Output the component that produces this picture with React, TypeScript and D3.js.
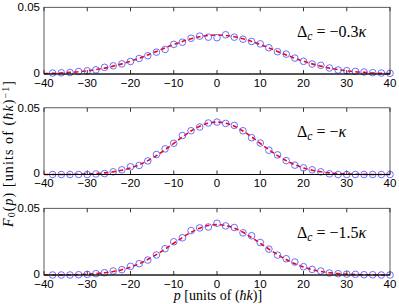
import React from "react";
import * as d3 from "d3";

const momenta = [-38,-36,-34,-32,-30,-28,-26,-24,-22,-20,-18,-16,-14,-12,-10,-8,-6,-4,-2,0,2,4,6,8,10,12,14,16,18,20,22,24,26,28,30,32,34,36,38,40];
const theoryP = [-40,-38,-36,-34,-32,-30,-28,-26,-24,-22,-20,-18,-16,-14,-12,-10,-8,-6,-4,-2,0,2,4,6,8,10,12,14,16,18,20,22,24,26,28,30,32,34,36,38,40];

const sim1 = [0.0007,0.0009,0.0011,0.0019,0.0024,0.0031,0.005,0.0061,0.0076,0.0094,0.0116,0.0137,0.0164,0.0184,0.0222,0.0238,0.0268,0.0284,0.0276,0.0272,0.0294,0.0276,0.0261,0.0244,0.0226,0.0197,0.0167,0.0149,0.0119,0.0095,0.0075,0.0065,0.0045,0.003,0.0025,0.002,0.0015,0.001,0.0007,0.0005];
const theory1 = [0.0003,0.0005,0.0008,0.0012,0.0017,0.0024,0.0033,0.0044,0.0059,0.0076,0.0096,0.0118,0.0143,0.0169,0.0196,0.0221,0.0244,0.0264,0.0279,0.0289,0.0292,0.0289,0.0279,0.0264,0.0244,0.0221,0.0196,0.0169,0.0143,0.0118,0.0096,0.0076,0.0059,0.0044,0.0033,0.0024,0.0017,0.0012,0.0008,0.0005,0.0003];

const sim2 = [0,0,0,0,0,0.0004,0.0007,0.002,0.0035,0.0058,0.0068,0.0102,0.015,0.0192,0.0234,0.0292,0.0328,0.0356,0.0386,0.0393,0.0383,0.0368,0.0328,0.0276,0.0236,0.0182,0.0147,0.0104,0.007,0.005,0.0035,0.002,0.0005,0,0,0,0,0,0,0];
const theory2 = [0,0,0,0.0001,0.0002,0.0004,0.0007,0.0012,0.002,0.0032,0.0049,0.0073,0.0104,0.0142,0.0186,0.0233,0.0282,0.0326,0.0362,0.0385,0.0393,0.0385,0.0362,0.0326,0.0282,0.0233,0.0186,0.0142,0.0104,0.0073,0.0049,0.0032,0.002,0.0012,0.0007,0.0004,0.0002,0.0001,0,0,0];

const sim3 = [0,0,0,0.0002,0.0005,0.001,0.0017,0.003,0.004,0.0065,0.0085,0.0112,0.015,0.0197,0.0249,0.0279,0.0333,0.0353,0.036,0.0388,0.0368,0.0356,0.0316,0.0294,0.0244,0.0194,0.0149,0.0122,0.0097,0.0062,0.0042,0.003,0.0015,0.001,0.0007,0.0005,0.0002,0.0002,0,0];
const theory3 = [0,0,0.0001,0.0002,0.0003,0.0006,0.001,0.0017,0.0026,0.004,0.0059,0.0084,0.0116,0.0153,0.0194,0.0238,0.0281,0.032,0.0351,0.0371,0.0378,0.0371,0.0351,0.032,0.0281,0.0238,0.0194,0.0153,0.0116,0.0084,0.0059,0.004,0.0026,0.0017,0.001,0.0006,0.0003,0.0002,0.0001,0,0];

const detunings = ["\u22120.3", "\u2212", "\u22121.5"];
const xTicks = [-40, -30, -20, -10, 0, 10, 20, 30, 40];
const yTicks = [0, 0.05];

const W = 399, H = 304;
const left = 44, right = 390;
const tops = [7.3, 107.8, 208.3];
const ph = 66.7;

const sims = [sim1, sim2, sim3];
const theories = [theory1, theory2, theory3];

const x = d3.scaleLinear().domain([-40, 40]).range([left, right]);
const tickFont = "'Liberation Sans', Arial, sans-serif";
const texFont = "'Liberation Serif', 'Times New Roman', serif";

function fmtTick(v: number) {
  return v < 0 ? "\u2212" + Math.abs(v) : String(v);
}

function Panel({ i }: { i: number }) {
  const top = tops[i];
  const y = d3.scaleLinear().domain([0, 0.05]).range([top + ph, top]);
  const line = d3
    .line<number>()
    .x((_, k) => x(theoryP[k]))
    .y((d) => y(d))
    .curve(d3.curveCatmullRom);
  const bottom = top + ph;
  return (
    <g>
      {xTicks.map((t) => (
        <g key={t}>
          <line x1={x(t)} x2={x(t)} y1={bottom} y2={bottom - 4} stroke="#000" strokeWidth={0.8} />
          <line x1={x(t)} x2={x(t)} y1={top} y2={top + 4} stroke="#000" strokeWidth={0.8} />
          <text x={x(t)} y={bottom + 12.5} fontFamily={tickFont} fontSize={11.5} textAnchor="middle">
            {fmtTick(t)}
          </text>
        </g>
      ))}
      {yTicks.map((t) => (
        <text key={t} x={left - 4} y={y(t) + (t === 0 ? 2.5 : 4)} fontFamily={tickFont} fontSize={11.5} textAnchor="end">
          {String(t)}
        </text>
      ))}
      <path d={line(theories[i]) || ""} fill="none" stroke="#ff0000" strokeWidth={1.6} strokeDasharray="4.5,3" />
      {sims[i].map((v, k) => (
        <circle key={k} cx={x(momenta[k])} cy={y(v)} r={3.3} fill="none" stroke="#4848ff" strokeWidth={0.8} />
      ))}
      <rect x={left} y={top} width={right - left} height={ph} fill="none" stroke="#333" strokeWidth={0.8} />
      <line x1={left} x2={right} y1={bottom} y2={bottom} stroke="#000" strokeWidth={1} />
      <text x={297} y={top + 29.5} fontFamily={texFont} fontSize={16}>
        <tspan>{"\u0394"}</tspan>
        <tspan fontStyle="italic" fontSize={11.5} dy={3}>c</tspan>
        <tspan dy={-3}>{" = " + detunings[i]}</tspan>
        <tspan fontStyle="italic">{"\u03BA"}</tspan>
      </text>
    </g>
  );
}

export default function App() {
  return (
    <svg width={W} height={H} style={{ position: "absolute", left: 0, top: 0, background: "white" }}>
      <rect width={W} height={H} fill="white" />
      {[0, 1, 2].map((i) => (
        <Panel key={i} i={i} />
      ))}
      <text
        transform={`translate(13,154) rotate(-90)`}
        fontFamily={texFont}
        fontSize={14}
        textAnchor="middle"
        textLength={146}
        lengthAdjust="spacing"
      >
        <tspan fontStyle="italic">F</tspan>
        <tspan fontSize={10} dy={2}>0</tspan>
        <tspan dy={-2}>(</tspan>
        <tspan fontStyle="italic">p</tspan>
        <tspan>) [units of (</tspan>
        <tspan fontStyle="italic">{"\u0127k"}</tspan>
        <tspan>)</tspan>
        <tspan fontSize={10} dy={-4.5}>{"\u22121"}</tspan>
        <tspan dy={4.5}>]</tspan>
      </text>
      <text x={218} y={300} fontFamily={texFont} fontSize={14} textAnchor="middle">
        <tspan fontStyle="italic">p</tspan>
        <tspan> [units of (</tspan>
        <tspan fontStyle="italic">{"\u0127k"}</tspan>
        <tspan>)]</tspan>
      </text>
    </svg>
  );
}
